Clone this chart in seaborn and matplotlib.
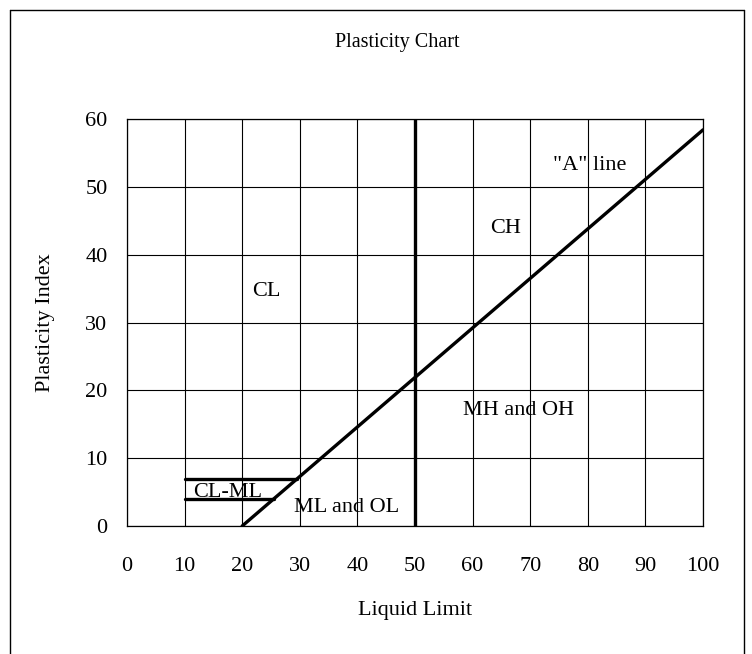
import matplotlib
matplotlib.use("Agg")
import matplotlib.pyplot as plt
import seaborn as sns
import pandas as pd
from matplotlib.lines import Line2D

# Data
a_line_ll = [20, 100]
a_line_pi = [0, 58.4]
ll50_x = [50, 50]
ll50_y = [0, 60]
clml_top_x = [10, 29.6]
clml_top_y = [7, 7]
clml_bot_x = [10, 25.5]
clml_bot_y = [4, 4]
region_labels = ["CL", "CH", '"A" line', "MH and OH", "ML and OL", "CL-ML"]
region_x = [24.1, 65.8, 80.4, 68.0, 38.2, 17.5]
region_y = [34.6, 43.9, 53.1, 17.0, 2.8, 5.0]
x_ticks = list(range(0, 101, 10))
y_ticks = list(range(0, 61, 10))

sns.set_style("white", {"text.color": "black", "axes.labelcolor": "black",
                        "xtick.color": "black", "ytick.color": "black"})
plt.rcParams['font.family'] = ['Liberation Serif', 'DejaVu Serif']

fig = plt.figure(figsize=(7.52, 6.54), dpi=100)
ax = fig.add_axes([127/752, 1-526/654, 576/752, 407/654])

lw = 2.4
for xs, ys in [(a_line_ll, a_line_pi), (ll50_x, ll50_y), (clml_top_x, clml_top_y), (clml_bot_x, clml_bot_y)]:
    df = pd.DataFrame({"x": xs, "y": ys})
    sns.lineplot(data=df, x="x", y="y", ax=ax, color="black", linewidth=lw, sort=False, estimator=None)

ax.set_xlim(0, 100)
ax.set_ylim(0, 60)
ax.set_xticks(x_ticks)
ax.set_yticks(y_ticks)
ax.grid(True, color="black", linewidth=0.8)
ax.set_axisbelow(True)
for s in ax.spines.values():
    s.set_visible(True)
    s.set_color("black")
    s.set_linewidth(0.9)
ax.tick_params(axis="x", length=0, pad=22, labelsize=16, labelcolor="black")
ax.tick_params(axis="y", length=0, pad=14, labelsize=16, labelcolor="black")
ax.set_xlabel("Liquid Limit", fontsize=16, labelpad=18, color="black")
ax.set_ylabel("Plasticity Index", fontsize=16, labelpad=22, color="black")

for lab, x, y in zip(region_labels, region_x, region_y):
    ax.text(x, y, lab, ha="center", va="center", fontsize=16, color="black")

fig.text(397/752, 1-43/654, "Plasticity Chart", ha="center", va="center", fontsize=14.5, color="black")

# figure border (bottom cut off)
for xs, ys in [([10/752, 10/752], [0, 1-10/654]), ([10/752, 744/752], [1-10/654, 1-10/654]), ([744/752, 744/752], [1-10/654, 0])]:
    fig.add_artist(Line2D(xs, ys, color="black", linewidth=1.0, transform=fig.transFigure))

fig.savefig("out.png", dpi=100)
